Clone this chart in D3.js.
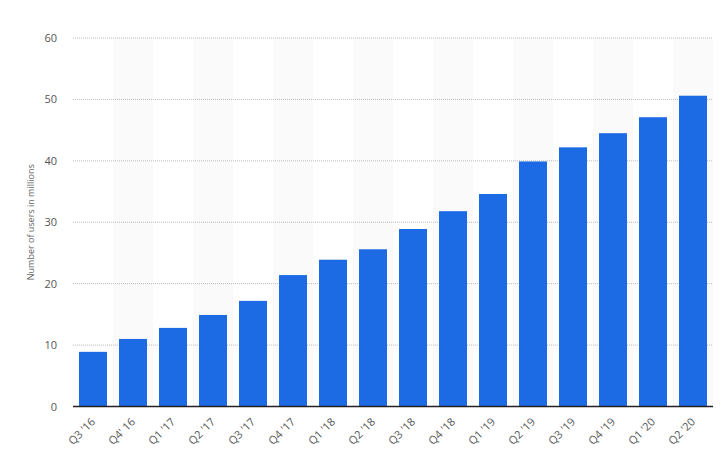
<!DOCTYPE html>
<html><head><meta charset="utf-8">
<script src="https://cdn.jsdelivr.net/npm/d3@7"></script>
<style>body{margin:0;background:#fff}text{font-family:"Open Sans",sans-serif}</style>
</head><body><svg id="c" width="724" height="463"></svg>
<script>
var quarters = ["Q3 '16","Q4' 16","Q1 '17","Q2 '17","Q3 '17","Q4 '17","Q1 '18","Q2 '18","Q3 '18","Q4 '18","Q1 '19","Q2 '19","Q3 '19","Q4 '19","Q1 '20","Q2 '20"];
var users = [8.9, 11, 12.8, 14.9, 17.2, 21.4, 23.9, 25.6, 28.9, 31.8, 34.6, 39.9, 42.2, 44.5, 47.1, 50.6];
var yTicks = [0, 10, 20, 30, 40, 50, 60];

var svg = d3.select("#c");
var plotLeft = 73, plotRight = 713, plotTop = 38, plotBottom = 406.5;
var x = d3.scaleBand().domain(quarters).range([plotLeft, plotRight]).paddingInner(0.3).paddingOuter(0.15);
var band = d3.scaleBand().domain(quarters).range([plotLeft, plotRight]);
var y = d3.scaleLinear().domain([0, 60]).range([plotBottom, plotTop]);

// alternating shaded columns
svg.selectAll("rect.shade").data(quarters.filter(function (d, i) { return i % 2 === 1; }))
    .enter().append("rect")
    .attr("x", function (d) { return band(d); })
    .attr("y", plotTop).attr("width", band.bandwidth()).attr("height", plotBottom - plotTop)
    .attr("fill", "#fafafa");

// grid lines
svg.selectAll("line.grid").data(yTicks.slice(1)).enter().append("line")
    .attr("x1", plotLeft).attr("x2", plotRight)
    .attr("y1", function (d) { return y(d); }).attr("y2", function (d) { return y(d); })
    .attr("stroke", "#bbb").attr("stroke-dasharray", "1,1");

svg.selectAll("text.yt").data(yTicks).enter().append("text")
    .attr("x", 57).attr("y", function (d) { return y(d) + 4; })
    .attr("text-anchor", "end").attr("font-size", 11).attr("fill", "#555")
    .text(function (d) { return d; });

svg.selectAll("rect.bar").data(users).enter().append("rect")
    .attr("x", function (d, i) { return x(quarters[i]); })
    .attr("y", function (d) { return y(d); })
    .attr("width", x.bandwidth())
    .attr("height", function (d) { return plotBottom - y(d); })
    .attr("fill", "#1c6ae4");

svg.append("line").attr("x1", plotLeft).attr("x2", plotRight).attr("y1", plotBottom).attr("y2", plotBottom)
    .attr("stroke", "#222").attr("stroke-width", 1.5);

svg.selectAll("text.xt").data(quarters).enter().append("text")
    .attr("transform", function (d) {
        return "translate(" + (x(d) + x.bandwidth() / 2 + 3) + "," + (plotBottom + 16) + ") rotate(-45)";
    })
    .attr("text-anchor", "end").attr("font-size", 11).attr("fill", "#555")
    .text(function (d) { return d; });

svg.append("text")
    .attr("transform", "translate(34," + ((plotTop + plotBottom) / 2) + ") rotate(-90)")
    .attr("text-anchor", "middle").attr("font-size", 9).attr("fill", "#666")
    .text("Number of users in millions");
</script></body></html>
